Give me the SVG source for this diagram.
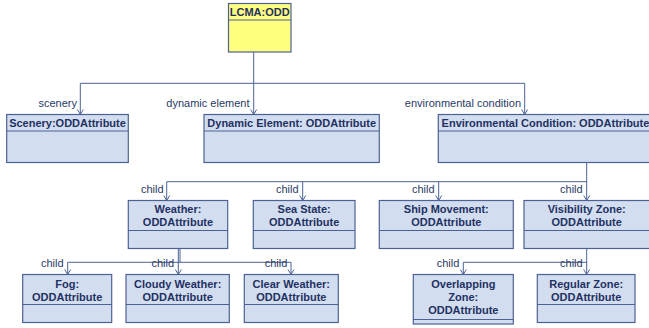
<svg xmlns="http://www.w3.org/2000/svg" width="649" height="328" viewBox="0 0 649 328">
<style>
.box{fill:#d2ddf0;stroke:#4d6294;stroke-width:1.2}
.root{fill:#ffff80;stroke:#4d6294;stroke-width:1.2}
.sep{stroke:#4d6294;stroke-width:1}
.t{font-family:"Liberation Sans",Arial,sans-serif;font-size:11px;font-weight:bold;fill:#1f3162;text-anchor:middle}
.l{font-family:"Liberation Sans",Arial,sans-serif;font-size:11px;fill:#2a3a66;text-anchor:end}
.c{fill:none;stroke:#4d6294;stroke-width:1;marker-end:url(#arr)}
.cn{fill:none;stroke:#4d6294;stroke-width:1}
</style>
<defs>
<marker id="arr" markerUnits="userSpaceOnUse" viewBox="-7 -4 8 8" refX="0" refY="0" markerWidth="8" markerHeight="8" orient="auto">
<path d="M-5,-3 L0,0 L-5,3" fill="none" stroke="#4d6294" stroke-width="1"/>
</marker>
</defs>
<rect width="649" height="328" fill="#ffffff"/>
<g id="connectors">
<path class="c" d="M253.7,52 V114.5"/>
<path class="c" d="M253.7,83.3 H80.3 V114.5"/>
<path class="c" d="M253.7,83.3 H524.7 V114.5"/>
<path class="c" d="M586.7,162.5 V200.5"/>
<path class="c" d="M586.7,181.7 H166.7 V200.5"/>
<path class="c" d="M302.7,181.7 V200.5"/>
<path class="c" d="M438.7,181.7 V200.5"/>
<path class="c" d="M178.3,248.5 V274.5"/>
<path class="c" d="M180,248.5 V262.3 H67.7 V274.5"/>
<path class="c" d="M180,262.3 H291 V274.5"/>
<path class="c" d="M586.7,248.5 V274.5"/>
<path class="c" d="M586.7,262.3 H463.3 V274.5"/>
<text class="l" x="77" y="106.5">scenery</text>
<text class="l" x="249.5" y="106.5">dynamic element</text>
<text class="l" x="521" y="106.5">environmental condition</text>
<text class="l" x="163.5" y="192.5">child</text>
<text class="l" x="298.5" y="192.5">child</text>
<text class="l" x="434.5" y="192.5">child</text>
<text class="l" x="582.7" y="192.5">child</text>
<text class="l" x="63.5" y="267">child</text>
<text class="l" x="174" y="267">child</text>
<text class="l" x="287.3" y="267">child</text>
<text class="l" x="459.3" y="267">child</text>
<text class="l" x="582.7" y="267">child</text>
</g>
<g id="lcma">
<rect class="root" x="228.5" y="3.5" width="62.5" height="48.5"/>
<line class="sep" x1="228.5" y1="20" x2="291" y2="20"/>
<text class="t" x="259.7" y="15.5">LCMA:ODD</text>
</g>
<g id="scenery">
<rect class="box" x="6.7" y="114.5" width="121.6" height="48"/>
<line class="sep" x1="6.7" y1="131" x2="128.3" y2="131"/>
<text class="t" x="67.5" y="126.5">Scenery:ODDAttribute</text>
</g>
<g id="dynamic">
<rect class="box" x="204" y="114.5" width="175.3" height="48"/>
<line class="sep" x1="204" y1="131" x2="379.3" y2="131"/>
<text class="t" x="291.7" y="126.5">Dynamic Element: ODDAttribute</text>
</g>
<g id="environmental">
<rect class="box" x="438.3" y="114.5" width="214" height="48"/>
<line class="sep" x1="438.3" y1="131" x2="652.3" y2="131"/>
<text class="t" x="545.5" y="126.5">Environmental Condition: ODDAttribute</text>
</g>
<g id="weather">
<rect class="box" x="128.3" y="200.5" width="99.4" height="48"/>
<line class="sep" x1="128.3" y1="230.5" x2="227.7" y2="230.5"/>
<text class="t" x="178" y="212.5">Weather:</text>
<text class="t" x="178" y="225.5">ODDAttribute</text>
</g>
<g id="seastate">
<rect class="box" x="253.3" y="200.5" width="101.7" height="48"/>
<line class="sep" x1="253.3" y1="230.5" x2="355" y2="230.5"/>
<text class="t" x="304.2" y="212.5">Sea State:</text>
<text class="t" x="304.2" y="225.5">ODDAttribute</text>
</g>
<g id="ship">
<rect class="box" x="379.3" y="200.5" width="134" height="48"/>
<line class="sep" x1="379.3" y1="230.5" x2="513.3" y2="230.5"/>
<text class="t" x="446.3" y="212.5">Ship Movement:</text>
<text class="t" x="446.3" y="225.5">ODDAttribute</text>
</g>
<g id="visibility">
<rect class="box" x="524" y="200.5" width="126" height="48"/>
<line class="sep" x1="524" y1="230.5" x2="650" y2="230.5"/>
<text class="t" x="586.7" y="212.5">Visibility Zone:</text>
<text class="t" x="586.7" y="225.5">ODDAttribute</text>
</g>
<g id="fog">
<rect class="box" x="22.7" y="274.5" width="89" height="48"/>
<line class="sep" x1="22.7" y1="304.5" x2="111.7" y2="304.5"/>
<text class="t" x="67.2" y="287.5">Fog:</text>
<text class="t" x="67.2" y="300.5">ODDAttribute</text>
</g>
<g id="cloudy">
<rect class="box" x="126" y="274.5" width="103.3" height="48"/>
<line class="sep" x1="126" y1="304.5" x2="229.3" y2="304.5"/>
<text class="t" x="177.7" y="287.5">Cloudy Weather:</text>
<text class="t" x="177.7" y="300.5">ODDAttribute</text>
</g>
<g id="clear">
<rect class="box" x="244.3" y="274.5" width="94" height="48"/>
<line class="sep" x1="244.3" y1="304.5" x2="338.3" y2="304.5"/>
<text class="t" x="291.3" y="287.5">Clear Weather:</text>
<text class="t" x="291.3" y="300.5">ODDAttribute</text>
</g>
<g id="overlapping">
<rect class="box" x="413.3" y="274.5" width="100" height="49.5"/>
<line class="sep" x1="413.3" y1="319.5" x2="513.3" y2="319.5"/>
<text class="t" x="463.3" y="287.5">Overlapping</text>
<text class="t" x="463.3" y="300.5">Zone:</text>
<text class="t" x="463.3" y="313.5">ODDAttribute</text>
</g>
<g id="regular">
<rect class="box" x="537.3" y="274.5" width="97.7" height="48"/>
<line class="sep" x1="537.3" y1="304.5" x2="635" y2="304.5"/>
<text class="t" x="586.2" y="287.5">Regular Zone:</text>
<text class="t" x="586.2" y="300.5">ODDAttribute</text>
</g>
</svg>
